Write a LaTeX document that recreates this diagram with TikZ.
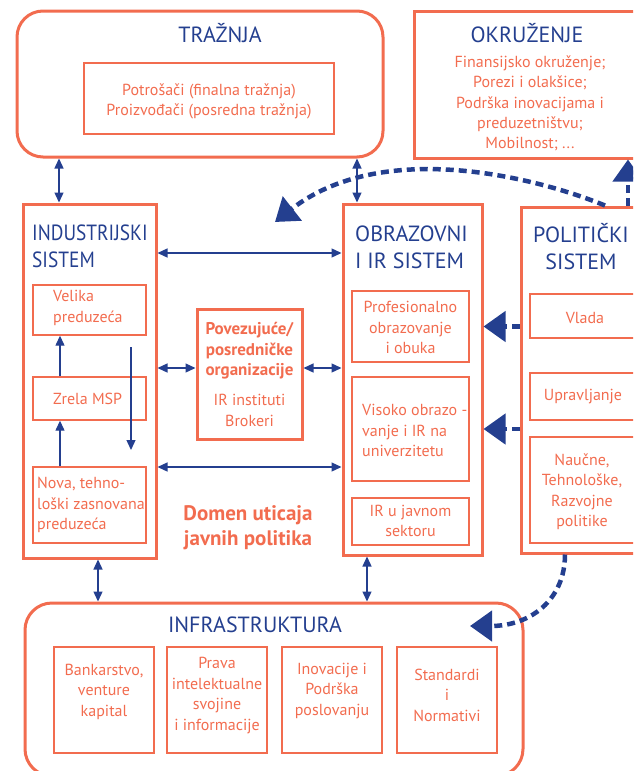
\documentclass[tikz,border=0pt]{standalone}
\usepackage{fontspec}
\usepackage{graphicx}
\setmainfont{PT Sans}
\usetikzlibrary{arrows.meta}
\definecolor{coral}{HTML}{F26C4F}
\definecolor{navy}{HTML}{243F8F}
\begin{document}
\begin{tikzpicture}[x=1pt,y=-1pt,
  outerbox/.style={draw=coral, line width=3pt, inner sep=0pt},
  innerbox/.style={draw=coral, line width=1.4pt, inner sep=0pt},
  ttl/.style={text=navy, inner sep=0pt, font=\fontsize{22}{27}\selectfont},
  txt/.style={text=coral, inner sep=0pt, align=center, font=\fontsize{16}{20.5}\selectfont},
  biarrow/.style={draw=navy, line width=1.3pt, {Triangle[length=10pt,width=9pt]}-{Triangle[length=10pt,width=9pt]}},
  uparrow/.style={draw=navy, line width=1.3pt, -{Triangle[length=10pt,width=9pt]}},
  dasharr/.style={draw=navy, line width=4.5pt, dash pattern=on 8pt off 5pt, -{Triangle[length=22pt,width=30pt]}}
]
\useasboundingbox (0,0) rectangle (633,771);
\clip (0,0) rectangle (633,771);

% ---- boxes ----
\node[outerbox, rounded corners=26pt, minimum width=366pt, minimum height=146pt] (trz) at (200,84) {};
\node[innerbox, minimum width=250pt, minimum height=71pt] (trzin) at (209,98.5) {};
\node[outerbox, minimum width=231pt, minimum height=147pt] (okr) at (529.5,84.5) {};

\node[outerbox, minimum width=133pt, minimum height=354pt] (ind) at (89.5,381) {};
\node[innerbox, minimum width=113pt, minimum height=50pt] (vel) at (89.5,310) {};
\node[innerbox, minimum width=113pt, minimum height=43pt] (zre) at (89.5,398.5) {};
\node[innerbox, minimum width=113pt, minimum height=76pt] (nov) at (89.5,505) {};

\node[outerbox, minimum width=105pt, minimum height=130pt] (pov) at (249.5,374) {};

\node[outerbox, minimum width=139pt, minimum height=351pt] (obr) at (412.5,379.5) {};
\node[innerbox, minimum width=117pt, minimum height=71pt] (pro) at (410.5,326.5) {};
\node[innerbox, minimum width=117pt, minimum height=104pt] (vis) at (410.5,429) {};
\node[innerbox, minimum width=117pt, minimum height=47pt] (irj) at (410.5,521.5) {};

\node[outerbox, minimum width=124pt, minimum height=346pt] (pol) at (583,380) {};
\node[innerbox, minimum width=115pt, minimum height=44pt] (vla) at (587.5,316) {};
\node[innerbox, minimum width=115pt, minimum height=47pt] (upr) at (587.5,396.5) {};
\node[innerbox, minimum width=115pt, minimum height=106pt] (nau) at (587.5,490) {};

\node[outerbox, rounded corners=27pt, minimum width=498pt, minimum height=173pt] (inf) at (274,689.5) {};
\node[innerbox, minimum width=100pt, minimum height=106pt] (ban) at (104,700) {};
\node[innerbox, minimum width=100pt, minimum height=106pt] (pra) at (217,700) {};
\node[innerbox, minimum width=100pt, minimum height=106pt] (ino) at (332,700) {};
\node[innerbox, minimum width=100pt, minimum height=106pt] (sta) at (447,700) {};

% ---- texts ----
\node[ttl] (trzT) at (220,33) {TRAŽNJA};
\node[txt] (trzX) at (209,101.5) {Potrošači (finalna tražnja)\\Proizvođači (posredna tražnja)};

\node[ttl] (okrT) at (527,33) {OKRUŽENJE};
\node[txt, font=\fontsize{16}{20.3}\selectfont] (okrX) at (530,103.5) {Finansijsko okruženje;\\Porezi i olakšice;\\Podrška inovacijama i\\preduzetništvu;\\Mobilnost; ...};

\node[ttl, align=left, anchor=west] (indT) at (32,246.5) {\scalebox{0.88}[1]{INDUSTRIJSKI}\\\scalebox{0.88}[1]{SISTEM}};
\node[txt, align=left, anchor=west] (velX) at (53,308) {Velika\\preduzeća};
\node[txt, align=left, anchor=west] (zreX) at (53,399) {Zrela MSP};
\node[txt, align=left, anchor=west] (novX) at (37,505) {Nova, tehno-\\loški zasnovana\\preduzeća};

\node[txt, font=\bfseries\fontsize{17}{20.5}\selectfont] (povX) at (249.5,351) {Povezujuće/\\posredničke\\organizacije};
\node[txt] (povY) at (249.5,410.5) {IR instituti\\Brokeri};

\node[txt, font=\bfseries\fontsize{21}{25}\selectfont] (domX) at (248,527.5) {Domen uticaja\\javnih politika};

\node[ttl, align=left, anchor=west] (obrT) at (355,247) {OBRAZOVNI\\I IR SISTEM};
\node[txt] (proX) at (410.5,327.5) {Profesionalno\\obrazovanje\\i obuka};
\node[txt, align=left, anchor=west] (visX) at (362,430.5) {Visoko obrazo -\\vanje i IR na\\univerzitetu};
\node[txt] (irjX) at (410.5,521) {IR u javnom\\sektoru};

\node[ttl, align=center] (polT) at (581,247) {POLITIČKI\\SISTEM};
\node[txt] (vlaX) at (585,318) {Vlada};
\node[txt] (uprX) at (583,396.5) {Upravljanje};
\node[txt] (nauX) at (582,491.5) {Naučne,\\Tehnološke,\\Razvojne\\politike};

\node[ttl] (infT) at (255,625) {INFRASTRUKTURA};
\node[txt] (banX) at (104,691.5) {Bankarstvo,\\venture\\kapital};
\node[txt] (praX) at (217,695.5) {Prava\\intelektualne\\svojine\\i informacije};
\node[txt] (inoX) at (332,691) {Inovacije i\\Podrška\\poslovanju};
\node[txt] (staX) at (447,695) {Standardi\\i\\Normativi};

% ---- helper coordinates ----
\coordinate (x59) at (59,0);
\coordinate (x357) at (357,0);
\coordinate (y253) at (0,253);
\coordinate (y467) at (0,467);
\coordinate (y368) at (0,368);
\coordinate (x60) at (60,0);
\coordinate (d1) at (131,347);
\coordinate (d2) at (131,450);
\coordinate (x98) at (98,0);
\coordinate (x367) at (367,0);
\coordinate (x628) at (628,0);
\coordinate (x605) at (605,0);
\coordinate (x565) at (565,0);
\coordinate (tip1) at (275,222);
\coordinate (tip2) at (470,626);

% ---- connectors ----
\draw[biarrow] (trz.south -| x59) -- (ind.north -| x59);
\draw[biarrow] (trz.south -| x357) -- (obr.north -| x357);
\draw[biarrow] (ind.east |- y253) -- (obr.west |- y253);
\draw[biarrow] (ind.east |- y467) -- (obr.west |- y467);
\draw[biarrow] (ind.east |- y368) -- (pov.west |- y368);
\draw[biarrow] (pov.east |- y368) -- (obr.west |- y368);
\draw[uparrow] (zre.north -| x60) -- (vel.south -| x60);
\draw[uparrow] (nov.north -| x60) -- (zre.south -| x60);
\draw[uparrow] (d1) -- (d2);
\draw[biarrow] (ind.south -| x98) -- (inf.north -| x98);
\draw[biarrow] (obr.south -| x367) -- (inf.north -| x367);

\draw[dasharr] (pol.west |- pro) -- (obr.east |- pro);
\draw[dasharr] (pol.west |- vis) -- (obr.east |- vis);
\draw[dasharr] (pol.north -| x628) -- (okr.south -| x628);
\draw[dasharr] (pol.north -| x605) .. controls (530,175) and (380,140) .. (tip1);
\draw[dasharr] (pol.south -| x565) .. controls (565,600) and (530,626) .. (tip2);
\end{tikzpicture}
\end{document}
